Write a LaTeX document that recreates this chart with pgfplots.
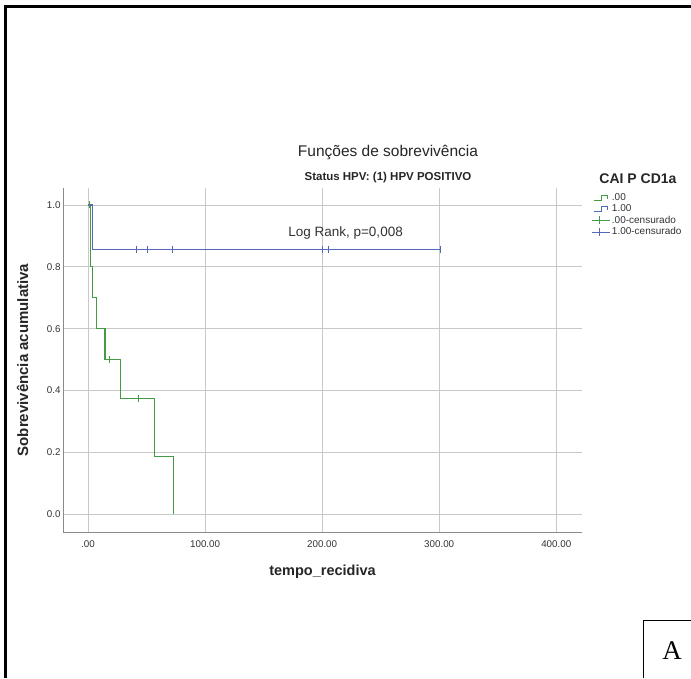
\documentclass[border=0pt]{standalone}
\usepackage{fontspec}
\setmainfont{Liberation Sans}
\newfontfamily\serifA{Liberation Serif}
\usepackage{pgfplots}
\pgfplotsset{compat=1.18}
\definecolor{kmgreen}{HTML}{459A45}
\definecolor{kmblue}{HTML}{5468B8}
\definecolor{gridgrey}{HTML}{C8C8C8}
\definecolor{axgrey}{HTML}{8A8A8A}
\definecolor{txt}{HTML}{333333}

\pgfplotsset{
  kmstep/.style={legend image code/.code={
    \draw[##1] (0pt,-2.5pt) -- (8pt,-2.5pt) -- (8pt,2.5pt) -- (14pt,2.5pt) -- (14pt,-1pt);}},
  kmcens/.style={legend image code/.code={
    \draw[##1] (-2pt,0pt) -- (16pt,0pt);
    \draw[##1] (5pt,-4pt) -- (5pt,4pt);}},
}

\begin{document}
\begin{tikzpicture}[x=1pt,y=1pt]
\useasboundingbox (0,0) rectangle (691,678);
% page and outer frame
\fill[white] (0,0) rectangle (691,678);
\draw[black, line width=2.6pt] (5.5,0) -- (5.5,671.5) -- (691,671.5);
\draw[black, line width=1pt] (643.5,0) -- (643.5,57.5) -- (691,57.5);
\node[font=\fontsize{27}{30}\selectfont\serifA] at (672,27) {A};

% titles
\node[font=\fontsize{15.5}{18}\selectfont, text=black!85] at (388,525) {Funções de sobrevivência};
\node[font=\fontsize{11.5}{14}\selectfont\bfseries, text=black!85] at (388,500) {Status HPV: (1) HPV POSITIVO};

\begin{axis}[
  scale only axis, width=519pt, height=344pt,
  at={(63pt,146pt)}, anchor=south west,
  xmin=-21.4, xmax=422, ymin=-0.058, ymax=1.055,
  axis x line*=bottom, axis y line*=left,
  axis line style={axgrey, line width=0.9pt},
  tick style={draw=none},
  xtick={0,100,200,300,400},
  xticklabels={.00,100.00,200.00,300.00,400.00},
  ytick={0,0.2,0.4,0.6,0.8,1.0},
  yticklabels={0.0,0.2,0.4,0.6,0.8,1.0},
  tick label style={font=\fontsize{9.8}{11}\selectfont, text=txt},
  xticklabel style={yshift=-5pt},
  yticklabel style={xshift=1pt},
  /pgf/number format/assume math mode=true,
  grid=major, major grid style={gridgrey, line width=0.7pt},
  xlabel={tempo\_recidiva},
  ylabel={Sobrevivência acumulativa},
  xlabel style={font=\fontsize{14.5}{17}\selectfont\bfseries, text=black!85,
    at={(axis description cs:0.5,-0.115)}, anchor=center},
  ylabel style={font=\fontsize{15}{17}\selectfont\bfseries, text=black!85,
    at={(axis description cs:-0.078,0.5)}, anchor=center},
  legend style={at={(1.018,0.99)}, anchor=north west, draw=none, fill=none,
    font=\fontsize{10}{11}\selectfont, text=txt, row sep=-1.3pt,
    inner sep=0pt, /tikz/every even column/.append style={column sep=1pt}},
  legend cell align=left,
  clip=false,
]
% survival step curves
\addplot[kmgreen, line width=1.2pt, const plot, kmstep] coordinates {
  (0,1) (2.3,0.8) (4,0.7) (7,0.6) (14.5,0.5) (28,0.375) (57,0.1875) (73,0) };
\addlegendentry{.00}
\addplot[kmblue, line width=1.2pt, const plot, kmstep] coordinates {
  (0,1) (3.5,0.857) (301,0.857) };
\addlegendentry{1.00}
% censored marks
\addplot[kmgreen, only marks, mark=|, mark size=3.5pt, mark options={line width=0.9pt}, kmcens]
  coordinates { (1.5,1) (18,0.5) (43,0.375) };
\addlegendentry{.00-censurado}
\addplot[kmblue, only marks, mark=|, mark size=3.5pt, mark options={line width=0.9pt}, kmcens]
  coordinates { (41,0.857) (51,0.857) (72,0.857) (200,0.857) (205,0.857) (301,0.857) };
\addlegendentry{1.00-censurado}

\node[font=\fontsize{13.5}{16}\selectfont, text=txt] at (axis cs:220,0.91) {Log Rank, p=0,008};
\end{axis}

\node[font=\fontsize{14}{16}\selectfont\bfseries, text=black!85] at (638,499) {CAI P CD1a};
\end{tikzpicture}
\end{document}
